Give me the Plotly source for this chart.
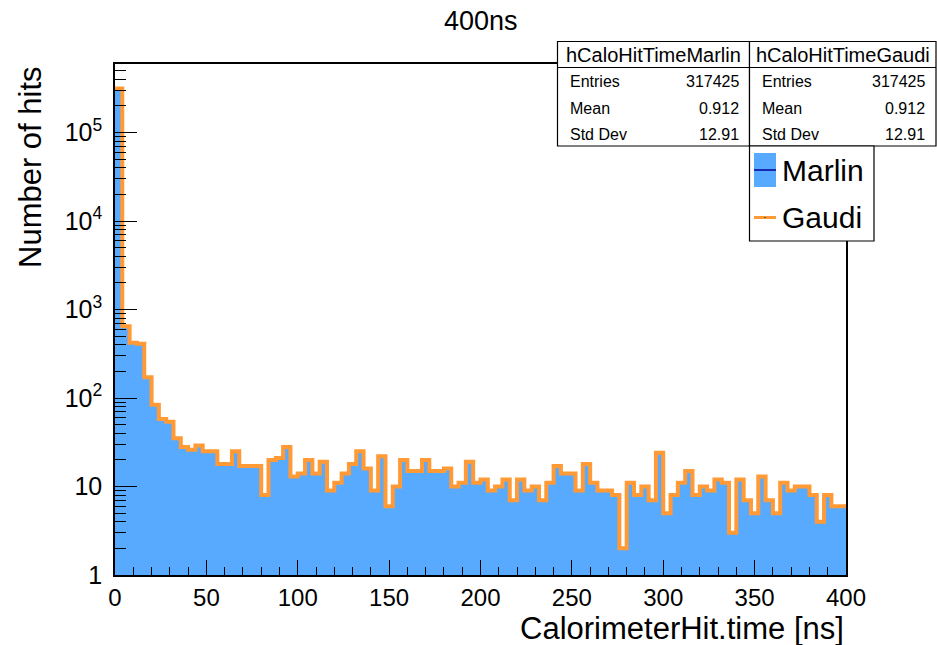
import numpy as np
import plotly.graph_objects as go

# ---------------- data ----------------
bin_low = 0.0
bin_high = 400.0
counts_marlin = [
    314000, 649, 421, 410, 172, 84, 58, 54, 35, 28,
    26, 29, 25, 25, 18, 18, 25, 17, 17, 17,
    8, 20, 21, 28, 13, 14, 20, 14, 19, 9,
    11, 14, 18, 25, 16, 9, 22, 6, 10, 20,
    15, 15, 20, 15, 15, 16, 10, 11, 19, 11,
    12, 9, 10, 12, 7, 12, 9, 10, 7, 11,
    17, 14, 14, 9, 18, 11, 9, 9, 8, 2,
    11, 8, 10, 7, 24, 5, 8, 11, 15, 8,
    10, 9, 12, 11, 3, 12, 7, 5, 13, 7,
    5, 11, 9, 10, 10, 8, 4, 8, 6, 6,
]
counts_gaudi = list(counts_marlin)

series_names = ["Marlin", "Gaudi"]
hist_names = ["hCaloHitTimeMarlin", "hCaloHitTimeGaudi"]
stat_labels = ["Entries", "Mean", "Std Dev"]
stat_values_marlin = ["317425", "0.912", "12.91"]
stat_values_gaudi = ["317425", "0.912", "12.91"]

y_tick_vals = [1, 10, 100, 1000, 10000, 100000]
y_tick_text = ["1", "10", "10<sup>2</sup>", "10<sup>3</sup>", "10<sup>4</sup>", "10<sup>5</sup>"]

title_text = "400ns"
x_title = "CalorimeterHit.time [ns]"
y_title = "Number of hits"

# ---------------- style ----------------
BLUE = "#58aaff"
ORANGE = "#ff9a36"
FONT = "Liberation Sans, Arial, Helvetica, sans-serif"

W, H = 937, 645
L, R, T, B = 115, 91, 64, 70
PW, PH = W - L - R, H - T - B


def px(x):
    return (x - L) / PW


def py(y):
    return (H - B - y) / PH


nb = len(counts_marlin)
edges = np.linspace(bin_low, bin_high, nb + 1)
centers = 0.5 * (edges[:-1] + edges[1:])
width = edges[1] - edges[0]

fig = go.Figure()
fig.add_trace(go.Bar(
    x=centers, y=counts_marlin, width=width,
    marker=dict(color=BLUE, line=dict(width=0)),
    name=series_names[0], showlegend=False,
))
fig.add_trace(go.Scatter(
    x=list(edges[:-1]) + [edges[-1]],
    y=list(counts_gaudi) + [counts_gaudi[-1]],
    mode="lines", line=dict(color=ORANGE, width=4, shape="hv"),
    name=series_names[1], showlegend=False,
))

# minor log ticks
minor_y = []
for d in range(0, 6):
    for m in range(2, 10):
        v = m * 10 ** d
        if np.log10(v) < 5.775:
            minor_y.append(v)

fig.update_layout(
    width=W, height=H,
    margin=dict(l=L, r=R, t=T, b=B, pad=0),
    paper_bgcolor="white", plot_bgcolor="white",
    bargap=0, barmode="overlay",
    showlegend=False,
    font=dict(family=FONT, color="black"),
    xaxis=dict(
        range=[bin_low, bin_high], showgrid=False, zeroline=False,
        showline=True, linecolor="black", linewidth=1.5, mirror=True,
        ticks="inside", ticklen=15, tickwidth=1.2, tickcolor="black",
        tickvals=list(range(0, 401, 50)),
        tickfont=dict(size=24, family=FONT),
        minor=dict(ticks="inside", ticklen=8, tickwidth=1.2, tickcolor="black",
                   dtick=10, tick0=0, showgrid=False),
    ),
    yaxis=dict(
        type="log", range=[0, 5.775], showgrid=False, zeroline=False,
        showline=True, linecolor="black", linewidth=1.5, mirror=True,
        ticks="inside", ticklen=22, tickwidth=1.2, tickcolor="black",
        tickmode="array", tickvals=y_tick_vals, ticktext=y_tick_text,
        tickfont=dict(size=25, family=FONT),
        ticklabelstandoff=6,
        minor=dict(ticks="inside", ticklen=11, tickwidth=1.2, tickcolor="black",
                   tickmode="array", tickvals=minor_y, showgrid=False),
    ),
)

shapes = []
ann = []

# title and axis titles
ann.append(dict(text=title_text, x=0.5, y=py(21), xref="paper", yref="paper",
                xanchor="center", yanchor="middle", showarrow=False,
                font=dict(size=27, family=FONT)))
ann.append(dict(text=x_title, x=px(846), y=py(628), xref="paper", yref="paper",
                xanchor="right", yanchor="middle", showarrow=False,
                font=dict(size=31, family=FONT)))
ann.append(dict(text=y_title, x=px(30), y=py(64), xref="paper", yref="paper",
                xanchor="center", yanchor="top", textangle=-90, showarrow=False,
                font=dict(size=31, family=FONT)))

# stats boxes
boxes = [
    (557.5, 749.5, hist_names[0], stat_values_marlin),
    (749.5, 936.0, hist_names[1], stat_values_gaudi),
]
top, sep, bot = 41.5, 67.5, 146.0
row_y = [81.7, 108.3, 134.0]
for (x0, x1, name, vals) in boxes:
    shapes.append(dict(type="rect", xref="paper", yref="paper",
                       x0=px(x0), x1=px(x1), y0=py(bot), y1=py(top),
                       fillcolor="white", line=dict(color="black", width=1.2),
                       layer="above"))
    shapes.append(dict(type="line", xref="paper", yref="paper",
                       x0=px(x0), x1=px(x1), y0=py(sep), y1=py(sep),
                       line=dict(color="black", width=1.2), layer="above"))
    ann.append(dict(text=name, x=px((x0 + x1) / 2), y=py((top + sep) / 2 + 0.5),
                    xref="paper", yref="paper", xanchor="center", yanchor="middle",
                    showarrow=False, font=dict(size=20, family=FONT)))
    for lab, val, ry in zip(stat_labels, vals, row_y):
        ann.append(dict(text=lab, x=px(x0 + 10), y=py(ry), xref="paper", yref="paper",
                        xanchor="left", yanchor="middle", showarrow=False,
                        font=dict(size=16, family=FONT)))
        ann.append(dict(text=val, x=px(x1 - 9), y=py(ry), xref="paper", yref="paper",
                        xanchor="right", yanchor="middle", showarrow=False,
                        font=dict(size=16, family=FONT)))

# legend box
lx0, lx1, ly0, ly1 = 749.5, 874.0, 146.0, 241.0
shapes.append(dict(type="rect", xref="paper", yref="paper",
                   x0=px(lx0), x1=px(lx1), y0=py(ly1), y1=py(ly0),
                   fillcolor="white", line=dict(color="black", width=1.2), layer="above"))
# Marlin symbol
shapes.append(dict(type="rect", xref="paper", yref="paper",
                   x0=px(754), x1=px(776), y0=py(187), y1=py(153),
                   fillcolor=BLUE, line=dict(width=0), layer="above"))
shapes.append(dict(type="line", xref="paper", yref="paper",
                   x0=px(754), x1=px(776), y0=py(170), y1=py(170),
                   line=dict(color="#000099", width=1.5), layer="above"))
# Gaudi symbol
shapes.append(dict(type="line", xref="paper", yref="paper",
                   x0=px(754), x1=px(776), y0=py(217.5), y1=py(217.5),
                   line=dict(color=ORANGE, width=3), layer="above"))
shapes.append(dict(type="rect", xref="paper", yref="paper",
                   x0=px(764.5), x1=px(765.5), y0=py(218), y1=py(217),
                   fillcolor="black", line=dict(width=0), layer="above"))
ann.append(dict(text=series_names[0], x=px(780), y=py(170), xref="paper", yref="paper",
                xanchor="left", yanchor="middle", showarrow=False,
                font=dict(size=30, family=FONT)))
ann.append(dict(text=series_names[1], x=px(780), y=py(217), xref="paper", yref="paper",
                xanchor="left", yanchor="middle", showarrow=False,
                font=dict(size=30, family=FONT)))

fig.update_layout(shapes=shapes, annotations=ann)
fig.write_html("out.html")
